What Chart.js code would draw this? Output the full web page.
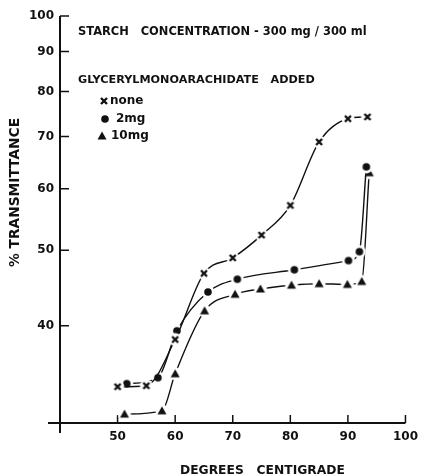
<!DOCTYPE html>
<html>
<head>
<meta charset="utf-8">
<script src="https://cdn.jsdelivr.net/npm/chart.js@4"></script>
<style>
  html, body { margin: 0; padding: 0; background: #fff; }
</style>
</head>
<body>
<canvas id="chart" width="425" height="476"></canvas>
<script>
// ticks
const xTicks = [50, 60, 70, 80, 90, 100];
const yTicks = [40, 50, 60, 70, 80, 90, 100];

// series (temperature, % transmittance)
const tempNone = [50, 55, 60, 65, 70, 75, 80, 85, 90, 93.4];
const transNone = [33.4, 33.5, 38.4, 46.7, 48.9, 52.3, 57.1, 68.9, 73.8, 74.2];
const temp2mg = [51.6, 57, 60.3, 65.7, 70.8, 80.7, 90.1, 92, 93.2];
const trans2mg = [33.7, 34.3, 39.4, 44.2, 45.9, 47.2, 48.5, 49.8, 64];
const temp10mg = [51.2, 57.7, 60, 65.1, 70.4, 74.8, 80.2, 85, 89.9, 92.4, 93.7];
const trans10mg = [30.8, 31.1, 34.7, 41.8, 43.9, 44.6, 45.1, 45.3, 45.2, 45.6, 62.9];

const INK = '#111';
const FONT = '"DejaVu Sans"';

// marker images, with a white halo so the lines stop short of them
function marker(kind, halo) {
  const c = document.createElement('canvas');
  c.width = 16; c.height = 16;
  const g = c.getContext('2d');
  if (halo) {
    g.fillStyle = '#fff';
    g.beginPath(); g.arc(8, 8, 6.5, 0, Math.PI * 2); g.fill();
  }
  g.fillStyle = INK; g.strokeStyle = INK;
  if (kind === 'x') {
    g.lineWidth = 2.4;
    g.beginPath();
    g.moveTo(5, 5); g.lineTo(11, 11);
    g.moveTo(11, 5); g.lineTo(5, 11);
    g.stroke();
  } else if (kind === 'o') {
    g.beginPath(); g.arc(8, 8, 3.8, 0, Math.PI * 2); g.fill();
  } else {
    g.beginPath();
    g.moveTo(8, 3.5); g.lineTo(12.5, 11.5); g.lineTo(3.5, 11.5);
    g.closePath(); g.fill();
  }
  return c;
}

const toXY = (xs, ys) => xs.map((x, i) => ({ x: x, y: ys[i] }));

function series(label, xs, ys, kind) {
  return {
    label: label,
    data: toXY(xs, ys),
    borderColor: INK,
    borderWidth: 1.4,
    cubicInterpolationMode: 'monotone',
    pointStyle: marker(kind, true),
    pointRadius: 6,
    fill: false
  };
}

// draw a string with the font size picked so it spans the given width
function fit(ctx, text, x, y, width) {
  ctx.font = 'bold 12px ' + FONT;
  const size = 12 * width / ctx.measureText(text).width;
  ctx.font = 'bold ' + size.toFixed(2) + 'px ' + FONT;
  ctx.fillText(text, x, y);
}

const tickFont = { family: 'DejaVu Sans', weight: 'bold', size: 12 };

const decor = {
  id: 'decor',
  beforeDatasetsDraw(chart) {
    const ctx = chart.ctx, sx = chart.scales.x, sy = chart.scales.y;
    const ax = sx.getPixelForValue(40), by = sy.getPixelForValue(30);
    ctx.save();
    ctx.strokeStyle = INK;
    ctx.lineWidth = 2;
    ctx.beginPath();
    ctx.moveTo(ax, sy.getPixelForValue(100)); ctx.lineTo(ax, by + 10);
    ctx.moveTo(ax - 12, by); ctx.lineTo(sx.getPixelForValue(100), by);
    ctx.stroke();
    ctx.lineWidth = 1.5;
    ctx.beginPath();
    yTicks.forEach(v => {
      const p = sy.getPixelForValue(v);
      ctx.moveTo(ax, p); ctx.lineTo(ax + 9, p);
    });
    xTicks.forEach(v => {
      const p = sx.getPixelForValue(v);
      ctx.moveTo(p, by); ctx.lineTo(p, by - 8);
    });
    ctx.stroke();
    ctx.restore();
  },
  afterDraw(chart) {
    const ctx = chart.ctx;
    ctx.save();
    ctx.fillStyle = INK;
    ctx.textBaseline = 'middle';
    fit(ctx, 'STARCH   CONCENTRATION - 300 mg / 300 ml', 78, 32, 289);
    fit(ctx, 'GLYCERYLMONOARACHIDATE   ADDED', 78, 80, 237);
    ctx.font = 'bold 12px ' + FONT;
    ctx.fillText('none', 110, 101);
    ctx.fillText('2mg', 116, 119);
    ctx.fillText('10mg', 111, 136);
    ctx.drawImage(marker('x', false), 96, 93);
    ctx.drawImage(marker('o', false), 97, 111);
    ctx.drawImage(marker('t', false), 94, 128);
    fit(ctx, 'DEGREES   CENTIGRADE', 180, 471, 165);
    ctx.translate(15, 267);
    ctx.rotate(-Math.PI / 2);
    fit(ctx, '% TRANSMITTANCE', 0, 0, 149);
    ctx.restore();
  }
};

new Chart(document.getElementById('chart').getContext('2d'), {
  type: 'line',
  data: {
    datasets: [
      series('none', tempNone, transNone, 'x'),
      series('2mg', temp2mg, trans2mg, 'o'),
      series('10mg', temp10mg, trans10mg, 't')
    ]
  },
  options: {
    responsive: false,
    animation: false,
    devicePixelRatio: 1,
    layout: { padding: { top: 16, right: 13, left: 0, bottom: 0 } },
    plugins: { legend: { display: false }, tooltip: { enabled: false } },
    scales: {
      x: {
        type: 'linear', min: 40, max: 100,
        grid: { display: false, drawTicks: false }, border: { display: false },
        afterBuildTicks: s => { s.ticks = xTicks.map(v => ({ value: v })); },
        afterFit: s => { s.height = 53; },
        ticks: { font: tickFont, color: INK, padding: 7, maxRotation: 0, autoSkip: false }
      },
      y: {
        type: 'logarithmic', min: 30, max: 100,
        grid: { display: false, drawTicks: false }, border: { display: false },
        afterBuildTicks: s => { s.ticks = yTicks.map(v => ({ value: v })); },
        afterFit: s => { s.width = 60; },
        ticks: { font: tickFont, color: INK, padding: 6, autoSkip: false, callback: v => String(v) }
      }
    }
  },
  plugins: [decor]
});
</script>
</body>
</html>
